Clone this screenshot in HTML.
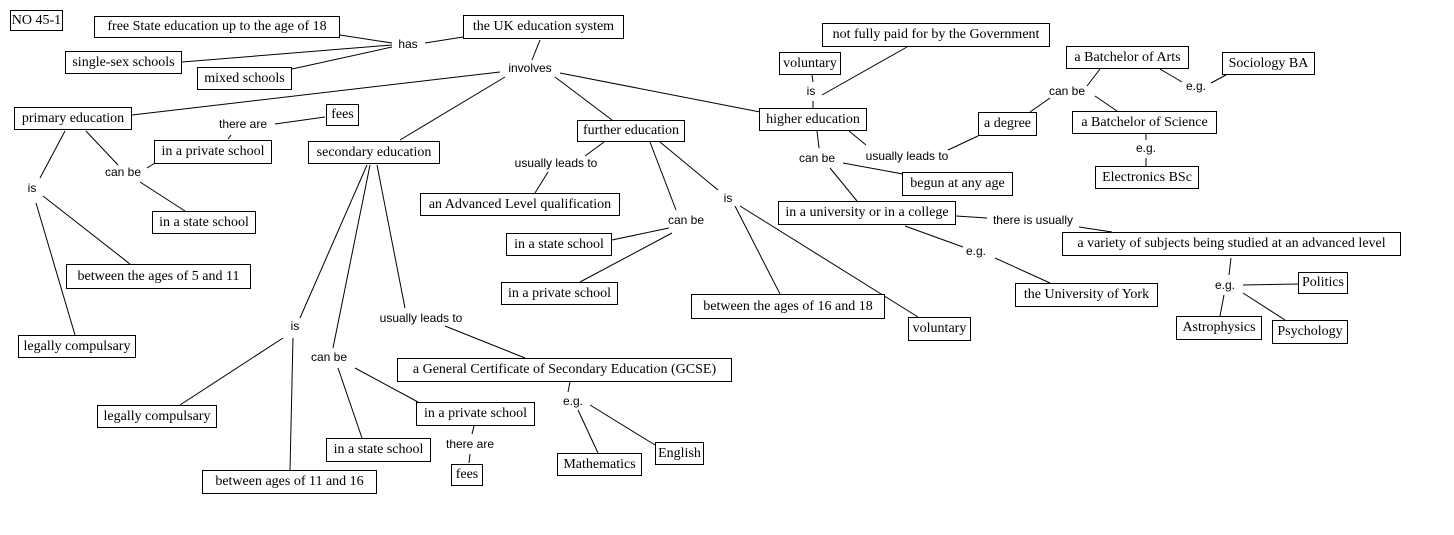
<!DOCTYPE html>
<html><head><meta charset="utf-8"><style>
html,body{margin:0;padding:0;background:#fff;}
#c{position:relative;width:1454px;height:535px;overflow:hidden;}
.b{position:absolute;border:1px solid #000;background:#fff;font-family:"Liberation Serif",serif;font-size:14px;line-height:1;display:flex;align-items:center;justify-content:center;white-space:nowrap;box-sizing:border-box;color:#000;}
svg{position:absolute;left:0;top:0;}
svg text{font-family:"Liberation Sans",sans-serif;font-size:12px;fill:#000;}
</style></head><body><div id="c">
<svg width="1454" height="535" stroke="#000" stroke-width="1" fill="none">
<g>
<line x1="425" y1="43" x2="463" y2="37"/><line x1="340" y1="35" x2="392" y2="43"/><line x1="182" y1="62" x2="392" y2="45"/><line x1="292" y1="69" x2="392" y2="47"/>
<line x1="540" y1="40" x2="532" y2="60"/><line x1="500" y1="72" x2="132" y2="115"/><line x1="505" y1="77" x2="400" y2="140"/><line x1="555" y1="77" x2="612" y2="120"/><line x1="560" y1="73" x2="760" y2="112"/>
<line x1="65" y1="131" x2="40" y2="178"/><line x1="86" y1="131" x2="118" y2="165"/><line x1="147" y1="168" x2="155" y2="163"/><line x1="140" y1="182" x2="185" y2="211"/>
<line x1="231" y1="135" x2="228" y2="139"/><line x1="275" y1="124" x2="325" y2="117"/><line x1="43" y1="196" x2="130" y2="264"/><line x1="36" y1="203" x2="75" y2="335"/>
<line x1="367" y1="165" x2="300" y2="318"/><line x1="370" y1="165" x2="333" y2="348"/><line x1="377" y1="165" x2="405" y2="308"/>
<line x1="283" y1="338" x2="180" y2="405"/><line x1="293" y1="338" x2="290" y2="470"/><line x1="338" y1="368" x2="362" y2="438"/><line x1="355" y1="368" x2="418" y2="402"/>
<line x1="445" y1="326" x2="525" y2="358"/><line x1="570" y1="382" x2="568" y2="392"/><line x1="578" y1="410" x2="598" y2="453"/><line x1="590" y1="405" x2="655" y2="445"/>
<line x1="474" y1="426" x2="472" y2="434"/><line x1="470" y1="454" x2="469" y2="463"/>
<line x1="604" y1="142" x2="585" y2="156"/><line x1="548" y1="172" x2="535" y2="193"/><line x1="650" y1="142" x2="676" y2="210"/><line x1="660" y1="142" x2="718" y2="190"/>
<line x1="669" y1="228" x2="612" y2="240"/><line x1="672" y1="233" x2="580" y2="282"/><line x1="735" y1="206" x2="780" y2="294"/><line x1="740" y1="206" x2="918" y2="317"/>
<line x1="812" y1="75" x2="813" y2="82"/><line x1="813" y1="101" x2="813" y2="108"/><line x1="907" y1="47" x2="822" y2="95"/>
<line x1="817" y1="131" x2="819" y2="148"/><line x1="849" y1="131" x2="866" y2="145"/><line x1="948" y1="150" x2="978" y2="136"/>
<line x1="830" y1="168" x2="857" y2="201"/><line x1="843" y1="163" x2="903" y2="174"/>
<line x1="1030" y1="112" x2="1050" y2="98"/><line x1="1087" y1="86" x2="1100" y2="69"/><line x1="1095" y1="96" x2="1117" y2="111"/>
<line x1="1160" y1="69" x2="1182" y2="82"/><line x1="1211" y1="83" x2="1226" y2="75"/><line x1="1146" y1="134" x2="1146" y2="140"/><line x1="1146" y1="158" x2="1146" y2="166"/>
<line x1="956" y1="216" x2="987" y2="218"/><line x1="1079" y1="227" x2="1112" y2="232"/><line x1="905" y1="226" x2="963" y2="247"/><line x1="995" y1="258" x2="1050" y2="283"/>
<line x1="1231" y1="258" x2="1229" y2="275"/><line x1="1243" y1="285" x2="1298" y2="284"/><line x1="1224" y1="295" x2="1220" y2="316"/><line x1="1243" y1="293" x2="1285" y2="320"/>
</g>
<g stroke="none" text-anchor="middle">
<text x="408" y="48">has</text><text x="530" y="72">involves</text><text x="243" y="128">there are</text><text x="123" y="176">can be</text><text x="32" y="192">is</text>
<text x="556" y="167">usually leads to</text><text x="686" y="224">can be</text><text x="728" y="202">is</text>
<text x="295" y="330">is</text><text x="329" y="361">can be</text><text x="421" y="322">usually leads to</text><text x="573" y="405">e.g.</text><text x="470" y="448">there are</text>
<text x="811" y="95">is</text><text x="817" y="162">can be</text><text x="907" y="160">usually leads to</text><text x="1067" y="95">can be</text><text x="1196" y="90">e.g.</text><text x="1146" y="152">e.g.</text>
<text x="1033" y="224">there is usually</text><text x="976" y="255">e.g.</text><text x="1225" y="289">e.g.</text>
</g>
</svg>
<div class="b" style="left:10px;top:10px;width:53px;height:21px">NO 45-1</div>
<div class="b" style="left:94px;top:16px;width:246px;height:22px">free State education up to the age of 18</div>
<div class="b" style="left:65px;top:51px;width:117px;height:23px">single-sex schools</div>
<div class="b" style="left:197px;top:67px;width:95px;height:23px">mixed schools</div>
<div class="b" style="left:463px;top:15px;width:161px;height:24px">the UK education system</div>
<div class="b" style="left:14px;top:107px;width:118px;height:23px">primary education</div>
<div class="b" style="left:326px;top:104px;width:33px;height:22px">fees</div>
<div class="b" style="left:154px;top:140px;width:118px;height:24px">in a private school</div>
<div class="b" style="left:308px;top:141px;width:132px;height:23px">secondary education</div>
<div class="b" style="left:152px;top:211px;width:104px;height:23px">in a state school</div>
<div class="b" style="left:577px;top:120px;width:108px;height:22px">further education</div>
<div class="b" style="left:420px;top:193px;width:200px;height:23px">an Advanced Level qualification</div>
<div class="b" style="left:506px;top:233px;width:106px;height:23px">in a state school</div>
<div class="b" style="left:501px;top:282px;width:117px;height:23px">in a private school</div>
<div class="b" style="left:691px;top:294px;width:194px;height:25px">between the ages of 16 and 18</div>
<div class="b" style="left:908px;top:317px;width:63px;height:24px">voluntary</div>
<div class="b" style="left:822px;top:23px;width:228px;height:24px">not fully paid for by the Government</div>
<div class="b" style="left:779px;top:52px;width:62px;height:23px">voluntary</div>
<div class="b" style="left:759px;top:108px;width:108px;height:23px">higher education</div>
<div class="b" style="left:978px;top:112px;width:59px;height:24px">a degree</div>
<div class="b" style="left:902px;top:172px;width:111px;height:24px">begun at any age</div>
<div class="b" style="left:1066px;top:46px;width:123px;height:23px">a Batchelor of Arts</div>
<div class="b" style="left:1222px;top:52px;width:93px;height:23px">Sociology BA</div>
<div class="b" style="left:1072px;top:111px;width:145px;height:23px">a Batchelor of Science</div>
<div class="b" style="left:1095px;top:166px;width:104px;height:23px">Electronics BSc</div>
<div class="b" style="left:778px;top:201px;width:178px;height:24px">in a university or in a college</div>
<div class="b" style="left:1062px;top:232px;width:339px;height:24px">a variety of subjects being studied at an advanced level</div>
<div class="b" style="left:1015px;top:283px;width:143px;height:24px">the University of York</div>
<div class="b" style="left:1298px;top:272px;width:50px;height:22px">Politics</div>
<div class="b" style="left:1176px;top:316px;width:86px;height:24px">Astrophysics</div>
<div class="b" style="left:1272px;top:320px;width:76px;height:24px">Psychology</div>
<div class="b" style="left:66px;top:264px;width:185px;height:25px">between the ages of 5 and 11</div>
<div class="b" style="left:18px;top:335px;width:118px;height:23px">legally compulsary</div>
<div class="b" style="left:397px;top:358px;width:335px;height:24px">a General Certificate of Secondary Education (GCSE)</div>
<div class="b" style="left:97px;top:405px;width:120px;height:23px">legally compulsary</div>
<div class="b" style="left:416px;top:402px;width:119px;height:24px">in a private school</div>
<div class="b" style="left:451px;top:464px;width:32px;height:22px">fees</div>
<div class="b" style="left:326px;top:438px;width:105px;height:24px">in a state school</div>
<div class="b" style="left:557px;top:453px;width:85px;height:23px">Mathematics</div>
<div class="b" style="left:655px;top:442px;width:49px;height:23px">English</div>
<div class="b" style="left:202px;top:470px;width:175px;height:24px">between ages of 11 and 16</div>
</div></body></html>
